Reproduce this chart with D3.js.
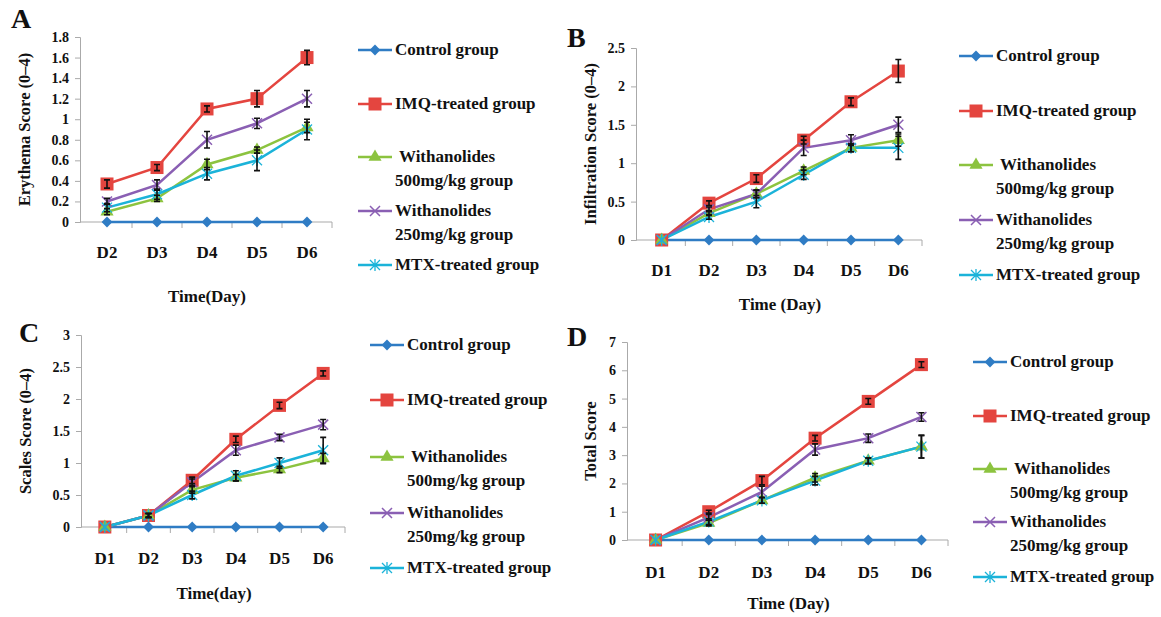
<!DOCTYPE html>
<html>
<head>
<meta charset="UTF-8" />
<style>
  body { margin: 0; background: #fff; }
  svg text { font-family: "Liberation Serif", "Times New Roman", serif; font-weight: bold; fill: #111; }
</style>
</head>
<body>
<svg id="chart" width="1161" height="617"></svg>
<script src="https://d3js.org/d3.v7.min.js"></script>
<script>
// groups, in legend order
const groups = ["Control group", "IMQ-treated group", "Withanolides 500mg/kg group", "Withanolides 250mg/kg group", "MTX-treated group"];
const legendLines = [["Control group"], ["IMQ-treated group"], [" Withanolides", "500mg/kg group"], ["Withanolides", "250mg/kg group"], ["MTX-treated group"]];
const colours = ["#2f7cc4", "#e4453f", "#8cc33f", "#8a5fb3", "#1bb3d9"];
const markers = ["diamond", "square", "triangle", "cross", "asterisk"];

const daysA = ["D2", "D3", "D4", "D5", "D6"];
const daysB = ["D1", "D2", "D3", "D4", "D5", "D6"];

// A: erythema
const erythemaMean = [
  [0, 0, 0, 0, 0],
  [0.37, 0.53, 1.1, 1.2, 1.6],
  [0.1, 0.23, 0.56, 0.7, 0.92],
  [0.2, 0.36, 0.8, 0.96, 1.2],
  [0.14, 0.27, 0.47, 0.6, 0.9]
];
const erythemaErr = [
  [0, 0, 0, 0, 0],
  [0.04, 0.03, 0.03, 0.08, 0.07],
  [0.03, 0.03, 0.05, 0.03, 0.05],
  [0.03, 0.05, 0.08, 0.05, 0.08],
  [0.04, 0.05, 0.06, 0.1, 0.1]
];
// B: infiltration
const infiltrationMean = [
  [0, 0, 0, 0, 0, 0],
  [0, 0.48, 0.8, 1.3, 1.8, 2.2],
  [0, 0.35, 0.6, 0.9, 1.2, 1.3],
  [0, 0.4, 0.6, 1.2, 1.3, 1.5],
  [0, 0.3, 0.5, 0.85, 1.2, 1.2]
];
const infiltrationErr = [
  [0, 0, 0, 0, 0, 0],
  [0, 0.03, 0.05, 0.05, 0.05, 0.15],
  [0, 0.03, 0.05, 0.05, 0.05, 0.08],
  [0, 0.03, 0.05, 0.1, 0.07, 0.1],
  [0, 0.03, 0.08, 0.06, 0.05, 0.15]
];
// C: scales
const scalesMean = [
  [0, 0, 0, 0, 0, 0],
  [0, 0.18, 0.73, 1.37, 1.9, 2.4],
  [0, 0.18, 0.58, 0.77, 0.9, 1.07],
  [0, 0.18, 0.7, 1.2, 1.4, 1.6],
  [0, 0.18, 0.5, 0.8, 1.0, 1.2]
];
const scalesErr = [
  [0, 0, 0, 0, 0, 0],
  [0, 0.03, 0.05, 0.05, 0.05, 0.04],
  [0, 0.03, 0.05, 0.05, 0.05, 0.08],
  [0, 0.03, 0.05, 0.08, 0.05, 0.08],
  [0, 0.03, 0.06, 0.08, 0.08, 0.2]
];
// D: total
const totalMean = [
  [0, 0, 0, 0, 0, 0],
  [0, 1.0, 2.1, 3.6, 4.9, 6.2],
  [0, 0.6, 1.4, 2.2, 2.8, 3.3],
  [0, 0.8, 1.7, 3.2, 3.6, 4.35],
  [0, 0.65, 1.4, 2.1, 2.8, 3.3]
];
const totalErr = [
  [0, 0, 0, 0, 0, 0],
  [0, 0.05, 0.15, 0.1, 0.1, 0.1],
  [0, 0.1, 0.1, 0.15, 0.1, 0.4],
  [0, 0.1, 0.2, 0.2, 0.15, 0.15],
  [0, 0.1, 0.1, 0.15, 0.1, 0.4]
];

const panels = [
  { letter: "A", days: daysA, mean: erythemaMean, err: erythemaErr, yMax: 1.8, yTicks: 9,
    yTitle: "Erythema Score (0–4)", xTitle: "Time(Day)",
    x0: 82, x1: 332, yTop: 37, yBot: 222, letterPos: [11, 28], yTitleX: 24,
    xLabelY: 258, xTitleY: 302, legendX: 358, legendY: [50, 104, 157, 211, 265] },
  { letter: "B", days: daysB, mean: infiltrationMean, err: infiltrationErr, yMax: 2.5, yTicks: 5,
    yTitle: "Infiltration Score (0–4)", xTitle: "Time (Day)",
    x0: 638, x1: 922, yTop: 48, yBot: 240, letterPos: [567, 47], yTitleX: 590,
    xLabelY: 276, xTitleY: 310, legendX: 959, legendY: [56, 111, 165, 220, 275] },
  { letter: "C", days: daysB, mean: scalesMean, err: scalesErr, yMax: 3, yTicks: 6,
    yTitle: "Scales Score (0–4)", xTitle: "Time(day)",
    x0: 83, x1: 345, yTop: 335, yBot: 527, letterPos: [19, 342], yTitleX: 25,
    xLabelY: 564, xTitleY: 599, legendX: 370, legendY: [345, 400, 457, 513, 568] },
  { letter: "D", days: daysB, mean: totalMean, err: totalErr, yMax: 7, yTicks: 7,
    yTitle: "Total Score", xTitle: "Time (Day)",
    x0: 629, x1: 948, yTop: 342, yBot: 540, letterPos: [567, 346], yTitleX: 590,
    xLabelY: 578, xTitleY: 609, legendX: 973, legendY: [362, 416, 469, 522, 577] }
];

const svg = d3.select("#chart");

function drawMarker(g, type, colour, cx, cy) {
  if (type === "diamond") {
    g.append("path").attr("d", d3.symbol(d3.symbolDiamond2, 75)())
      .attr("transform", `translate(${cx},${cy})`).attr("fill", colour);
  } else if (type === "square") {
    g.append("rect").attr("x", cx - 6.5).attr("y", cy - 6.5).attr("width", 13).attr("height", 13).attr("fill", colour);
  } else if (type === "triangle") {
    g.append("path").attr("d", d3.symbol(d3.symbolTriangle, 75)())
      .attr("transform", `translate(${cx},${cy})`).attr("fill", colour);
  } else if (type === "cross") {
    g.append("path").attr("d", `M${cx - 5},${cy - 5}L${cx + 5},${cy + 5}M${cx - 5},${cy + 5}L${cx + 5},${cy - 5}`)
      .attr("stroke", colour).attr("stroke-width", 1.5);
  } else {
    g.append("path").attr("d", `M${cx - 5},${cy - 5}L${cx + 5},${cy + 5}M${cx - 5},${cy + 5}L${cx + 5},${cy - 5}M${cx},${cy - 6}L${cx},${cy + 6}`)
      .attr("stroke", colour).attr("stroke-width", 1.3);
  }
}

panels.forEach(p => {
  const g = svg.append("g");
  const x = d3.scaleBand().domain(p.days).range([p.x0, p.x1]);
  const y = d3.scaleLinear().domain([0, p.yMax]).range([p.yBot, p.yTop]);
  const cx = d => x(d) + x.bandwidth() / 2;

  // y axis
  const yAxis = g.append("g").attr("transform", `translate(${p.x0 - 2},0)`)
    .call(d3.axisLeft(y).ticks(p.yTicks).tickFormat(d3.format("~g")).tickSize(5).tickPadding(6));
  yAxis.select(".domain").attr("stroke", "#aaa");
  yAxis.selectAll(".tick line").attr("stroke", "#aaa");
  yAxis.selectAll(".tick text").attr("font-size", 14).attr("font-family", null).attr("fill", null);

  // x axis, ticks on band edges
  g.append("line").attr("x1", p.x0 - 2).attr("x2", p.x1).attr("y1", p.yBot).attr("y2", p.yBot)
    .attr("stroke", "#aaa").attr("stroke-width", 1.2);
  g.selectAll(".xtick").data(p.days).enter().append("line")
    .attr("x1", d => x(d) + x.bandwidth()).attr("x2", d => x(d) + x.bandwidth())
    .attr("y1", p.yBot).attr("y2", p.yBot + 6).attr("stroke", "#aaa");
  g.selectAll(".xlab").data(p.days).enter().append("text")
    .attr("x", cx).attr("y", p.xLabelY).attr("text-anchor", "middle").attr("font-size", 17).text(d => d);

  // titles
  g.append("text").attr("x", (p.x0 + p.x1) / 2).attr("y", p.xTitleY).attr("text-anchor", "middle")
    .attr("font-size", 17).text(p.xTitle);
  g.append("text").attr("transform", `translate(${p.yTitleX},${(p.yTop + p.yBot) / 2}) rotate(-90)`)
    .attr("text-anchor", "middle").attr("dy", "0.35em").attr("font-size", 16.5).text(p.yTitle);
  g.append("text").attr("x", p.letterPos[0]).attr("y", p.letterPos[1]).attr("font-size", 28).text(p.letter);

  // lines
  const line = d3.line().x((v, i) => cx(p.days[i])).y(v => y(v));
  p.mean.forEach((vals, k) => {
    g.append("path").datum(vals).attr("d", line).attr("fill", "none")
      .attr("stroke", colours[k]).attr("stroke-width", 2.5);
  });
  p.mean.forEach((vals, k) => {
    vals.forEach((v, i) => drawMarker(g, markers[k], colours[k], cx(p.days[i]), y(v)));
  });
  // error bars
  p.mean.forEach((vals, k) => {
    vals.forEach((v, i) => {
      const e = p.err[k][i];
      if (!e) return;
      const xx = cx(p.days[i]);
      g.append("path")
        .attr("d", `M${xx},${y(v - e)}V${y(v + e)}M${xx - 3},${y(v - e)}H${xx + 3}M${xx - 3},${y(v + e)}H${xx + 3}`)
        .attr("stroke", "#111").attr("stroke-width", 1.6).attr("fill", "none");
    });
  });

  // legend
  groups.forEach((name, k) => {
    const ly = p.legendY[k];
    const lg = g.append("g");
    lg.append("line").attr("x1", p.legendX).attr("x2", p.legendX + 34).attr("y1", ly).attr("y2", ly)
      .attr("stroke", colours[k]).attr("stroke-width", 2.5);
    drawMarker(lg, markers[k], colours[k], p.legendX + 17, ly);
    legendLines[k].forEach((t, j) => {
      lg.append("text").attr("x", p.legendX + 37).attr("y", ly + 5 + j * 23.5)
        .attr("font-size", 17).attr("xml:space", "preserve").text(t);
    });
  });
});
</script>
</body>
</html>
